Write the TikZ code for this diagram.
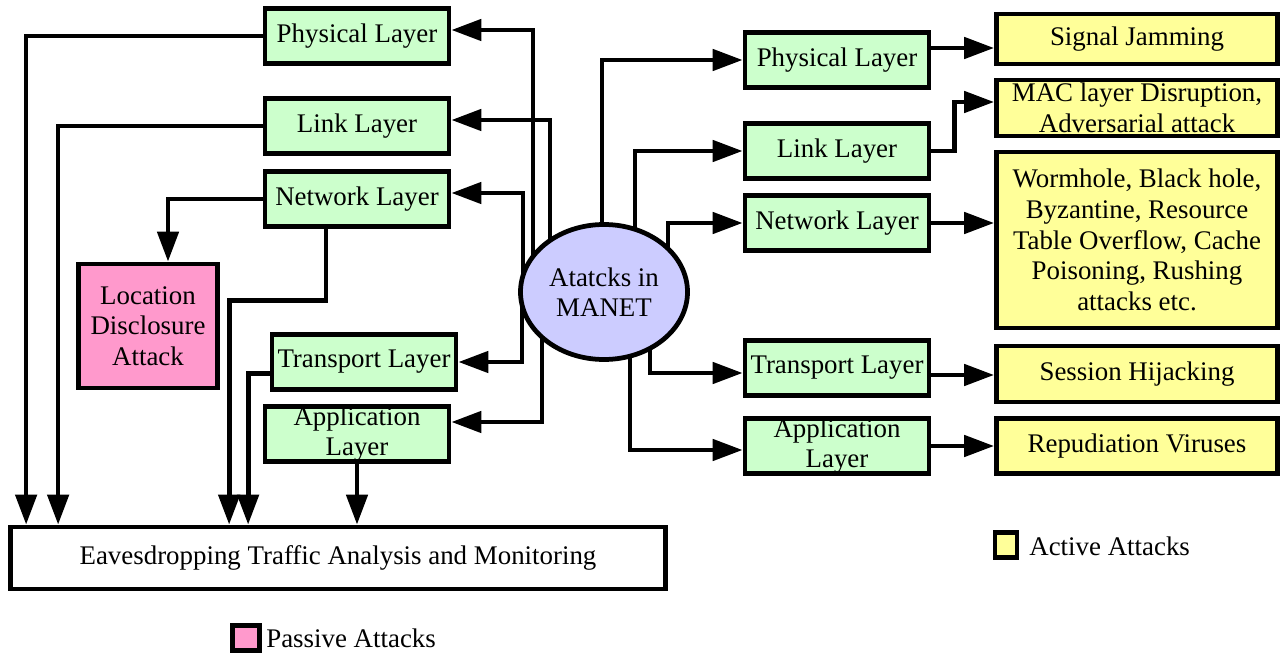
\documentclass[tikz,border=0pt]{standalone}
\usepackage{fontspec}
\setmainfont{Liberation Serif}
\usetikzlibrary{%
    arrows.meta,%
    shapes.geometric,%
    backgrounds%
}
\definecolor{layergreen}{RGB}{204,255,204}
\definecolor{activeyellow}{RGB}{255,255,153}
\definecolor{passivepink}{RGB}{255,153,204}
\definecolor{manetblue}{RGB}{204,204,255}

\begin{document}
\begin{tikzpicture}[
    x=0.2mm,y=-0.2mm,
    every node/.style={font={\fontsize{15.3}{17.4}\selectfont},
        align=center,inner sep=0pt},
    box/.style={draw,line width=2.7pt,minimum width=3.68cm,
        minimum height=1.1cm},
    layer/.style={box,fill=layergreen},
    active/.style={box,fill=activeyellow,minimum width=5.62cm},
    passive/.style={box,fill=passivepink},
    feed/.style={line width=2.7pt,
        -{Triangle[length=0.6cm,width=0.42cm]}},
    ]
    \useasboundingbox (0,0) rectangle (1282,655);
    % Centre
    \node[ellipse,draw,line width=2.7pt,fill=manetblue,
          minimum width=3.34cm,minimum height=2.7cm]
          (manet) at (604,292) {Atatcks in\\MANET};
    % Passive side
    \node[layer] (phyL)   at (357,36)  {Physical Layer};
    \node[layer] (linkL)  at (357,126) {Link Layer};
    \node[layer] (netL)   at (357,199) {Network Layer};
    \node[layer] (transL) at (364,362) {Transport Layer};
    \node[layer] (appL)   at (357,434) {Application\\Layer};
    \node[passive,minimum width=2.78cm,minimum height=2.48cm]
          (loc) at (148,326) {Location\\Disclosure\\Attack};
    \node[box,minimum width=13.1cm,minimum height=1.24cm]
          (eaves) at (338,558) {Eavesdropping Traffic Analysis and Monitoring};
    % Active side
    \node[layer] (phyR)   at (837,60)  {Physical Layer};
    \node[layer] (linkR)  at (837,151) {Link Layer};
    \node[layer] (netR)   at (837,223) {Network Layer};
    \node[layer] (transR) at (837,368) {Transport Layer};
    \node[layer] (appR)   at (837,446) {Application\\Layer};
    \node[active,minimum height=1cm] (jam)  at (1137,39)  {Signal Jamming};
    \node[active,minimum height=1.12cm] (mac)  at (1137,108)
          {MAC layer Disruption,\\Adversarial attack};
    \node[active,minimum height=3.52cm] (worm) at (1137,240)
          {Wormhole, Black hole,\\Byzantine, Resource\\Table Overflow, Cache\\
           Poisoning, Rushing\\attacks etc.};
    \node[active,minimum height=1.12cm] (sess) at (1137,374) {Session Hijacking};
    \node[active,minimum height=1.1cm] (rep)  at (1137,446) {Repudiation Viruses};
    % Legend
    \node[active,minimum width=0.44cm,minimum height=0.5cm]
          (actkey) at (1006,545) {};
    \node[anchor=west] (actlbl) at (1029,546) {Active Attacks};
    \node[passive,minimum width=0.54cm,minimum height=0.5cm]
          (paskey) at (246,638) {};
    \node[anchor=west] (paslbl) at (266,638) {Passive Attacks};

    \begin{scope}[on background layer]
    % MANET to the passive layers
    \draw[feed] (manet.center) ++(-71,0) |- ([yshift=0.12cm]phyL.east);
    \draw[feed] (manet.center) ++(-54,0) |- ([yshift=0.12cm]linkL.east);
    \draw[feed] (manet.center) ++(-81,0) |- ([yshift=0.12cm]netL.east);
    \draw[feed] (manet.center) ++(-82,0) |- (transL.east);
    \draw[feed] (manet.center) ++(-62,0) |- ([yshift=0.24cm]appL.east);
    % MANET to the active layers
    \draw[feed] (manet.center) ++(-2,0) |- (phyR.west);
    \draw[feed] (manet.center) ++(31,0) |- (linkR.west);
    \draw[feed] (manet.center) ++(64,0) |- (netR.west);
    \draw[feed] (manet.center) ++(46,0) |- ([yshift=-0.1cm]transR.west);
    \draw[feed] (manet.center) ++(26,0) |- ([yshift=-0.08cm]appR.west);
    \end{scope}

    % Passive layers down to eavesdropping
    \draw[feed] (phyL.west) -| ([xshift=0.36cm]eaves.north west);
    \draw[feed] (linkL.west) -| ([xshift=1cm]eaves.north west);
    \draw[feed] (netL.west) -| ([xshift=0.4cm]loc.north);
    \draw[feed] ([xshift=-0.62cm]netL.south) -- ++(0,72)
                -| ([xshift=4.42cm]eaves.north west);
    \draw[feed] ([yshift=-0.23cm]transL.west)
                -| ([xshift=4.8cm]eaves.north west);
    \draw[feed] (appL.south) -- (appL.south |- eaves.north);

    % Active layers to their attacks
    \draw[feed] ([yshift=0.24cm]phyR.east) -- ([yshift=0.24cm]phyR.east -| jam.west);
    \draw[feed] (linkR.east) -- ++(23,0) |- ([yshift=0.12cm]mac.west);
    \draw[feed] (netR.east) -- (netR.east -| worm.west);
    \draw[feed] ([yshift=-0.14cm]transR.east) -- ([yshift=-0.14cm]transR.east -| sess.west);
    \draw[feed] (appR.east) -- (appR.east -| rep.west);
\end{tikzpicture}
\end{document}
